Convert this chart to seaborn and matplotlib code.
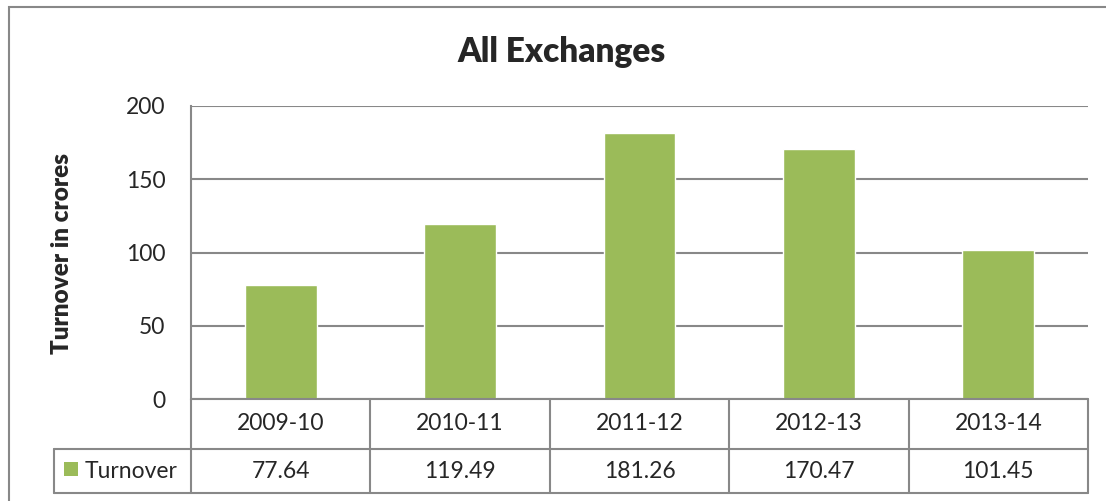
import matplotlib
matplotlib.use("Agg")
import matplotlib.pyplot as plt
from matplotlib.lines import Line2D
from matplotlib.patches import Rectangle
import seaborn as sns
import pandas as pd

categories = ["2009-10", "2010-11", "2011-12", "2012-13", "2013-14"]
turnover = [77.64, 119.49, 181.26, 170.47, 101.45]
series_name = "Turnover"
title = "All Exchanges"
ylabel = "Turnover in crores"
yticks = [0, 50, 100, 150, 200]

sns.set_style("white")
plt.rcParams['font.family'] = ['Lato', 'DejaVu Sans']

W, H = 1106, 501
fig = plt.figure(figsize=(W / 100, H / 100), dpi=100)
fig.patch.set_facecolor("white")

left_px, right_px, top_px, bottom_px = 191, 1088, 106, 399
ax = fig.add_axes([left_px / W, 1 - bottom_px / H, (right_px - left_px) / W, (bottom_px - top_px) / H])

df = pd.DataFrame({"cat": categories, "val": turnover})
green = "#9BBB59"
grid_c = "#888888"
fs = 16.5
sns.barplot(data=df, x="cat", y="val", color=green, width=0.4, ax=ax, saturation=1)

ax.set_ylim(0, 200)
ax.set_xlim(-0.5, len(categories) - 0.5)
ax.set_yticks(yticks)
ax.set_yticklabels([str(t) for t in yticks], fontsize=fs)
ax.tick_params(axis="y", length=0, pad=18.5)
ax.set_xticks([])
ax.set_xlabel("")
ax.set_ylabel("")
ax.yaxis.grid(True, color=grid_c, linewidth=1.5)
ax.set_axisbelow(True)
for s in ["top", "right", "bottom"]:
    ax.spines[s].set_visible(False)
ax.spines["left"].set_color(grid_c)
ax.spines["left"].set_linewidth(1.5)

fig.text(562 / W, 1 - 52 / H, title, fontsize=24, fontweight="heavy", ha="center", va="center")
fig.text(62 / W, 1 - 254 / H, ylabel, fontsize=17.5, fontweight="heavy", rotation=90,
         ha="center", va="center")

# Data table below the axes (axes-fraction coordinates)
tr = ax.transAxes
axh = bottom_px - top_px
axw = right_px - left_px
y_r1 = (bottom_px - 449) / axh
y_r2 = (bottom_px - 493) / axh
x_lab = (54 - left_px) / axw
n = len(categories)
lw = 1.5
def line(x0, y0, x1, y1):
    ax.add_line(Line2D([x0, x1], [y0, y1], transform=tr, color=grid_c, linewidth=lw, clip_on=False))

line(0, 0, 1, 0)
line(x_lab, y_r1, 1, y_r1)
line(x_lab, y_r2, 1, y_r2)
line(x_lab, y_r1, x_lab, y_r2)
for i in range(n + 1):
    line(i / n, 0, i / n, y_r2)
for i, (c, v) in enumerate(zip(categories, turnover)):
    xc = (i + 0.5) / n
    ax.text(xc, y_r1 / 2, c, transform=tr, ha="center", va="center", fontsize=fs, clip_on=False)
    ax.text(xc, (y_r1 + y_r2) / 2, f"{v:.2f}", transform=tr, ha="center", va="center", fontsize=fs, clip_on=False)

# legend key in row label
ax.add_patch(Rectangle(((64 - left_px) / axw, (bottom_px - 476) / axh), 14 / axw, 14 / axh,
                       transform=tr, facecolor=green, edgecolor="none", clip_on=False))
ax.text((85 - left_px) / axw, (y_r1 + y_r2) / 2, series_name, transform=tr, ha="left", va="center",
        fontsize=fs, clip_on=False)

# outer chart border
fig.add_artist(Rectangle((9 / W, -0.1), 1.2, 1 - 7 / H + 0.1, transform=fig.transFigure,
                         facecolor="none", edgecolor=grid_c, linewidth=1.5))

fig.savefig("out.png", dpi=100)
